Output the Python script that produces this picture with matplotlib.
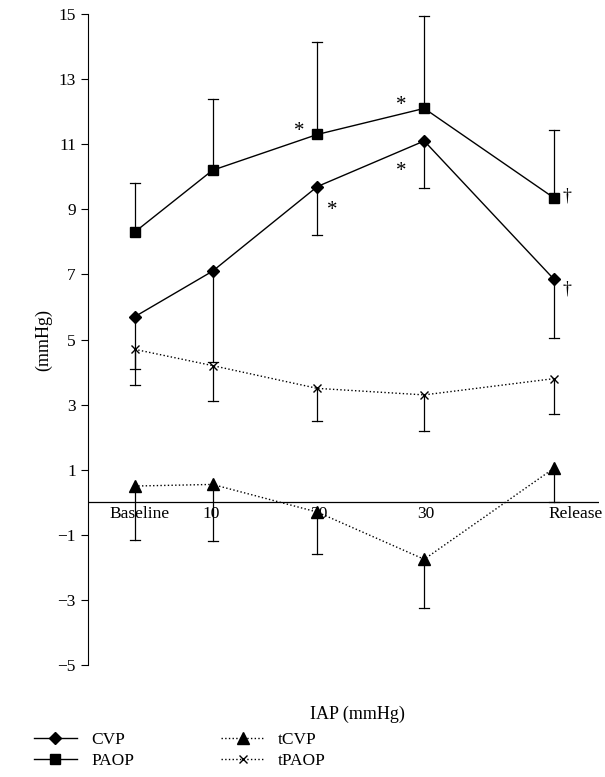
import matplotlib.pyplot as plt

plt.rcParams['font.family'] = ['Liberation Serif', 'DejaVu Serif']

categories = ['Baseline', '10', '20', '30', 'Release']
xpos = [135, 213, 318, 425, 555]
label_x = [140, 212, 320, 427, 577]

cvp = [5.7, 7.1, 9.7, 11.1, 6.85]
cvp_low = [4.1, 4.3, 8.2, 9.65, 5.05]
paop = [8.3, 10.2, 11.3, 12.1, 9.35]
paop_high = [9.8, 12.4, 14.15, 14.95, 11.45]
tpaop = [4.7, 4.2, 3.5, 3.3, 3.8]
tpaop_low = [3.6, 3.1, 2.5, 2.2, 2.7]
tcvp = [0.5, 0.55, -0.3, -1.75, 1.05]
tcvp_low = [-1.15, -1.2, -1.6, -3.25, 0.0]

fig = plt.figure(figsize=(6.05, 7.77), dpi=100)
ax = fig.add_axes([0.145, 0.144, 0.845, 0.838])

def errs(vals, lim):
    for x, v, l in zip(xpos, vals, lim):
        ax.plot([x, x], [v, l], color='black', lw=0.9)
        ax.plot([x - 5, x + 5], [l, l], color='black', lw=0.9)

errs(cvp, cvp_low)
errs(paop, paop_high)
errs(tpaop, tpaop_low)
errs(tcvp, tcvp_low)

l1, = ax.plot(xpos, cvp, '-D', color='black', ms=6, lw=1)
l2, = ax.plot(xpos, paop, '-s', color='black', ms=6.5, lw=1)
l3, = ax.plot(xpos, tcvp, ':^', color='black', ms=8, lw=1)
l4, = ax.plot(xpos, tpaop, ':x', color='black', ms=5.5, lw=1)

for x, y in [(300, 11.4), (402, 12.2), (333, 8.95), (402, 10.15)]:
    ax.text(x, y, '*', fontsize=15, ha='center', va='center')
for y in [9.4, 6.55]:
    ax.text(568, y, '†', fontsize=13, ha='center', va='center')

ax.axhline(0, color='black', lw=0.9)
for lx, c in zip(label_x, categories):
    ax.text(lx, -0.1, c, fontsize=12.5, ha='center', va='top')

ax.set_xlim(88, 600)
ax.set_ylim(-5, 15)
ax.set_yticks(range(-5, 16, 2))
ax.tick_params(axis='y', labelsize=12.5, direction='out', length=5)
ax.set_xticks([])
for s in ['top', 'right', 'bottom']:
    ax.spines[s].set_visible(False)
ax.set_ylabel('(mmHg)', fontsize=13)
fig.text(0.59, 0.075, 'IAP (mmHg)', fontsize=13, ha='center')

fig.legend([l1, l2, l3, l4], ['CVP', 'PAOP', 'tCVP', 'tPAOP'], ncol=2,
           loc='lower left', bbox_to_anchor=(0.03, -0.01), frameon=False,
           fontsize=12.5, columnspacing=5, handlelength=2.5, labelspacing=0.3)
fig.savefig('out.png', dpi=100)
